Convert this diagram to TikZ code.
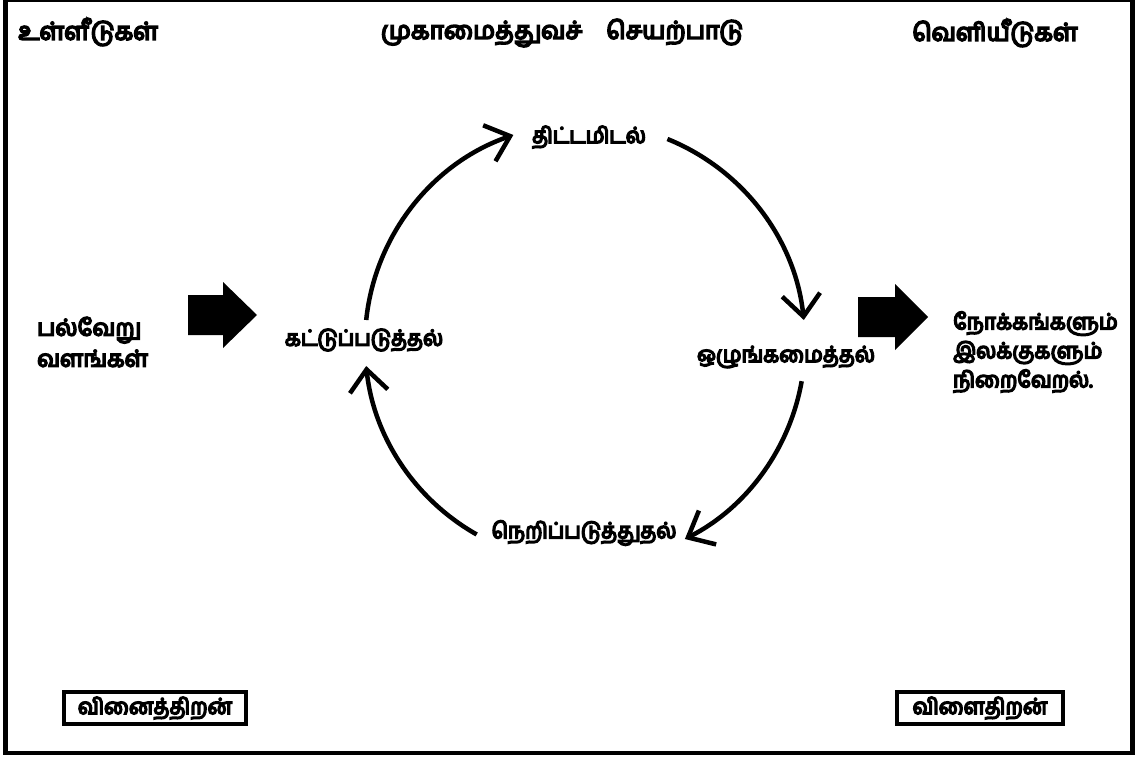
\documentclass[tikz,border=0pt]{standalone}
\usepackage{fontspec}
\newfontfamily\tam[Script=Tamil, FakeBold=7]{Hind Madurai}
\newfontfamily\tamn[Script=Tamil, FakeBold=7, FakeStretch=0.95]{Hind Madurai}
\usetikzlibrary{arrows.meta}
\begin{document}
\begin{tikzpicture}[x=1pt,y=-1pt,
  head/.style={font=\tam\fontsize{24.5}{31}\selectfont, inner sep=0pt, align=left},
  side/.style={font=\tam\fontsize{23}{31}\selectfont, inner sep=0pt, align=left},
  lbl/.style={font=\tamn\fontsize{22}{29}\selectfont, inner sep=0pt, align=left},
  cyc/.style={line width=4.5pt, -{Straight Barb[length=22pt,width=38pt]}},
  tagbox/.style={draw, line width=3.8pt, minimum width=182pt, minimum height=32pt,
                 inner sep=0pt, font=\tamn\fontsize{22}{29}\selectfont}]
\useasboundingbox (0,0) rectangle (1136,757);

% outer frame
\draw[line width=2pt] (3,1) -- (1135,1);
\draw[line width=4.5pt] (5.5,0) -- (5.5,753) -- (1132.5,753) -- (1132.5,0);

% headings
\node[head, anchor=west] (inp) at (18,32) {உள்ளீடுகள்};
\node[head] (mgmt) at (562,33) {முகாமைத்துவச்\hspace{24pt}செயற்பாடு};
\node[head] (outp) at (995,33) {வெளியீடுகள்};

% inputs and outputs
\node[side, anchor=west] (res) at (37,342) {பல்வேறு\\வளங்கள்};
\node[lbl, anchor=west] (goal) at (953,352) {நோக்கங்களும்\\இலக்குகளும்\\நிறைவேறல்.};

% block arrows
\fill (188,295) -- (223,295) -- (223,282) -- (257,315) -- (223,348) -- (223,335) -- (188,335) -- cycle;
\fill (858,297) -- (895,297) -- (895,284) -- (928,317) -- (895,350) -- (895,337) -- (858,337) -- cycle;

% management cycle
\coordinate (o) at (585,343);
\node[lbl] (plan) at (589,137) {திட்டமிடல்};
\node[lbl] (org)  at (786,357) {ஒழுங்கமைத்தல்};
\node[lbl] (dir)  at (584,533) {நெறிப்படுத்துதல்};
\node[lbl] (ctrl) at (364,340) {கட்டுப்படுத்தல்};

\draw[cyc] ([shift={(-174:220)}]o) arc[start angle=-174, end angle=-109, radius=220];
\draw[cyc] ([shift={(-68:220)}]o)  arc[start angle=-68,  end angle=-6,   radius=220];
\draw[cyc] ([shift={(10:220)}]o)   arc[start angle=10,   end angle=63,   radius=220];
\draw[cyc] ([shift={(119.5:220)}]o) arc[start angle=119.5, end angle=174, radius=220];

% efficiency boxes
\node[tagbox] (eff) at (155,708) {வினைத்திறன்};
\node[tagbox, minimum width=166pt] (effe) at (980,708) {விளைதிறன்};
\end{tikzpicture}
\end{document}
